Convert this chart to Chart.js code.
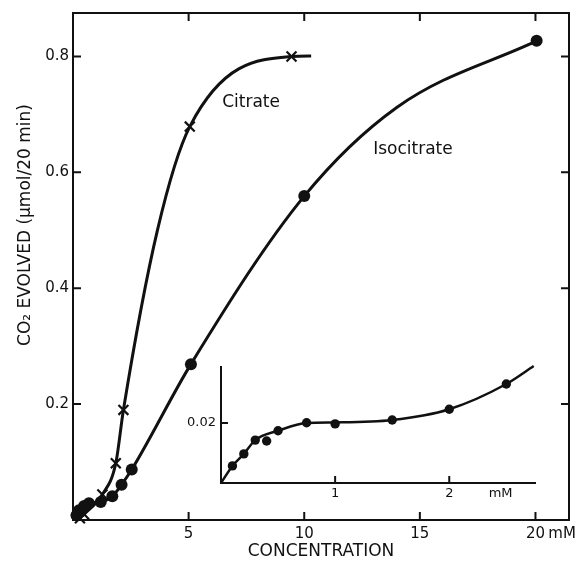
<!DOCTYPE html>
<html>
<head>
<meta charset="utf-8">
<script src="https://cdn.jsdelivr.net/npm/chart.js@4/dist/chart.umd.min.js"></script>
<style>
    body { margin: 0; background: #fff; }
    #quadro { position: relative; width: 582px; height: 569px; }
    #grafico { position: absolute; left: 0; top: 0; }
    #detalhe { position: absolute; left: 180px; top: 350px; }
</style>
</head>
<body>
<div id="quadro">
    <canvas id="grafico" width="582" height="569"></canvas>
    <canvas id="detalhe" width="380" height="160"></canvas>
</div>
<script>
// grafico principal (mM, umol/20 min)
const concCitrato = [0.3, 0.48, 1.27, 1.85, 2.18, 5.05, 9.45];
const co2Citrato = [0.003, 0.010, 0.044, 0.098, 0.190, 0.679, 0.800];
// a curva desenhada a mao, passa um pouco do ultimo ponto
const concCurvaCitrato = [0.3, 0.48, 1.27, 1.85, 2.18, 3.65, 5.05, 9.45, 10.3];
const co2CurvaCitrato = [0.003, 0.010, 0.044, 0.098, 0.190, 0.500, 0.679, 0.800, 0.801];

const concIsocitrato = [0.15, 0.26, 0.48, 0.69, 1.2, 1.7, 2.1, 2.54, 5.1, 10.0, 20.05];
const co2Isocitrato = [0.008, 0.017, 0.024, 0.029, 0.031, 0.041, 0.061, 0.087, 0.269, 0.559, 0.827];
const concCurvaIsocitrato = [0.15, 0.26, 0.48, 0.69, 1.2, 1.7, 2.1, 2.54, 5.1, 10.0, 14.0, 20.05];
const co2CurvaIsocitrato = [0.008, 0.017, 0.024, 0.029, 0.031, 0.041, 0.061, 0.087, 0.269, 0.559, 0.712, 0.827];

const ticksX = [5, 10, 15, 20];
const ticksY = [0.2, 0.4, 0.6, 0.8];
const posUnidade = 21.15; // onde fica o "mM" depois do 20

const nomes = ['Citrate', 'Isocitrate'];
const nomesX = [7.7, 14.7];
const nomesY = [0.72, 0.64];

// detalhe (inset)
const concDetalhe = [0.1, 0.2, 0.3, 0.4, 0.5, 0.75, 1.0, 1.5, 2.0, 2.5];
const co2Detalhe = [0.0057, 0.0097, 0.0143, 0.0140, 0.0174, 0.0201, 0.0197, 0.0210, 0.0246, 0.0330];
const concCurvaDetalhe = [0, 0.1, 0.2, 0.3, 0.5, 0.75, 1.0, 1.5, 2.0, 2.5, 2.74];
const co2CurvaDetalhe = [0, 0.0057, 0.0097, 0.0143, 0.0174, 0.0200, 0.0202, 0.0210, 0.0246, 0.0330, 0.0390];
const ticksXDetalhe = [1, 2];
const ticksYDetalhe = [0.02];
const posUnidadeDetalhe = 2.45;

const tinta = '#111';
const fonte = "'DejaVu Sans', sans-serif";

function pares(xs, ys) {
    return xs.map((x, i) => ({ x: x, y: ys[i] }));
}

// moldura com marcas para dentro
function moldura(op) {
    return {
        id: 'moldura',
        beforeDatasetsDraw: function (chart) {
            const { ctx, chartArea: a, scales } = chart;
            ctx.save();
            ctx.strokeStyle = tinta;
            ctx.lineWidth = op.largura;
            ctx.beginPath();
            if (op.caixa) {
                ctx.rect(a.left, a.top, a.right - a.left, a.bottom - a.top);
            } else {
                ctx.moveTo(a.left, a.top);
                ctx.lineTo(a.left, a.bottom);
                ctx.lineTo(a.right, a.bottom);
            }
            op.marcasX.forEach(v => {
                const px = scales.x.getPixelForValue(v);
                ctx.moveTo(px, a.bottom);
                ctx.lineTo(px, a.bottom - op.tam);
                if (op.caixa) {
                    ctx.moveTo(px, a.top);
                    ctx.lineTo(px, a.top + op.tam);
                }
            });
            op.marcasY.forEach(v => {
                const py = scales.y.getPixelForValue(v);
                ctx.moveTo(a.left, py);
                ctx.lineTo(a.left + op.tam, py);
                if (op.caixa) {
                    ctx.moveTo(a.right, py);
                    ctx.lineTo(a.right - op.tam, py);
                }
            });
            ctx.stroke();
            ctx.restore();
        }
    };
}

const textos = {
    id: 'textos',
    afterDraw: function (chart) {
        const { ctx, scales } = chart;
        ctx.save();
        ctx.fillStyle = tinta;
        ctx.font = '17px ' + fonte;
        ctx.textAlign = 'center';
        ctx.textBaseline = 'middle';
        nomes.forEach((n, i) => {
            ctx.fillText(n, scales.x.getPixelForValue(nomesX[i]), scales.y.getPixelForValue(nomesY[i]));
        });
        // titulo do eixo y
        ctx.translate(26, 225);
        ctx.rotate(-Math.PI / 2);
        ctx.fillText('CO\u2082 EVOLVED (\u03BCmol/20 min)', 0, 0);
        ctx.restore();
    }
};

function escala(op) {
    return {
        type: 'linear',
        min: op.min,
        max: op.max,
        afterBuildTicks: s => { s.ticks = op.ticks.map(v => ({ value: v })); },
        afterFit: op.fit,
        ticks: {
            autoSkip: false,
            maxRotation: 0,
            padding: op.pad,
            color: tinta,
            font: { family: fonte, size: op.tamFonte },
            callback: op.rotulo
        },
        grid: { display: false, drawTicks: false },
        border: { display: false },
        title: op.titulo || { display: false }
    };
}

new Chart(document.getElementById('grafico'), {
    type: 'scatter',
    data: {
        datasets: [{
            label: 'Citrate',
            data: pares(concCitrato, co2Citrato),
            pointStyle: 'crossRot',
            pointRadius: 7,
            borderColor: tinta,
            borderWidth: 2.2,
            clip: 10
        }, {
            label: 'Isocitrate',
            data: pares(concIsocitrato, co2Isocitrato),
            pointStyle: 'circle',
            pointRadius: 6,
            backgroundColor: tinta,
            borderColor: tinta,
            borderWidth: 0,
            clip: 10
        }, {
            label: 'curva citrate',
            data: pares(concCurvaCitrato, co2CurvaCitrato),
            showLine: true,
            cubicInterpolationMode: 'monotone',
            pointRadius: 0,
            borderColor: tinta,
            borderWidth: 3
        }, {
            label: 'curva isocitrate',
            data: pares(concCurvaIsocitrato, co2CurvaIsocitrato),
            showLine: true,
            cubicInterpolationMode: 'monotone',
            pointRadius: 0,
            borderColor: tinta,
            borderWidth: 3
        }]
    },
    options: {
        responsive: false,
        animation: false,
        events: [],
        layout: { padding: { top: 7, right: 13, left: 0, bottom: 0 } },
        plugins: { legend: { display: false }, tooltip: { enabled: false } },
        scales: {
            x: escala({
                min: 0, max: 21.45, ticks: ticksX.concat([posUnidade]), pad: 5, tamFonte: 15,
                fit: s => { s.height = 49; },
                rotulo: v => (v === posUnidade ? 'mM' : v),
                titulo: {
                    display: true,
                    text: 'CONCENTRATION',
                    color: tinta,
                    font: { family: fonte, size: 17 },
                    padding: { top: 0, bottom: 7 }
                }
            }),
            y: escala({
                min: 0, max: 0.875, ticks: ticksY, pad: 4, tamFonte: 15,
                fit: s => { s.width = 73; },
                rotulo: v => v.toFixed(1)
            })
        }
    },
    plugins: [moldura({ caixa: true, largura: 2, tam: 8, marcasX: ticksX, marcasY: ticksY }), textos]
});

new Chart(document.getElementById('detalhe'), {
    type: 'scatter',
    data: {
        datasets: [{
            label: 'pontos',
            data: pares(concDetalhe, co2Detalhe),
            pointStyle: 'circle',
            pointRadius: 4.7,
            backgroundColor: tinta,
            borderWidth: 0,
            clip: 8
        }, {
            label: 'curva',
            data: pares(concCurvaDetalhe, co2CurvaDetalhe),
            showLine: true,
            cubicInterpolationMode: 'monotone',
            pointRadius: 0,
            borderColor: tinta,
            borderWidth: 2.5,
            clip: 4
        }]
    },
    options: {
        responsive: false,
        animation: false,
        events: [],
        layout: { padding: { top: 16, right: 24, left: 0, bottom: 0 } },
        plugins: { legend: { display: false }, tooltip: { enabled: false } },
        scales: {
            x: escala({
                min: 0, max: 2.76, ticks: ticksXDetalhe.concat([posUnidadeDetalhe]), pad: 3, tamFonte: 13,
                fit: s => { s.height = 27; },
                rotulo: v => (v === posUnidadeDetalhe ? 'mM' : v)
            }),
            y: escala({
                min: 0, max: 0.039, ticks: ticksYDetalhe, pad: 5, tamFonte: 13,
                fit: s => { s.width = 41; },
                rotulo: v => v.toFixed(2)
            })
        }
    },
    plugins: [moldura({ caixa: false, largura: 2, tam: 7, marcasX: ticksXDetalhe, marcasY: ticksYDetalhe })]
});
</script>
</body>
</html>
